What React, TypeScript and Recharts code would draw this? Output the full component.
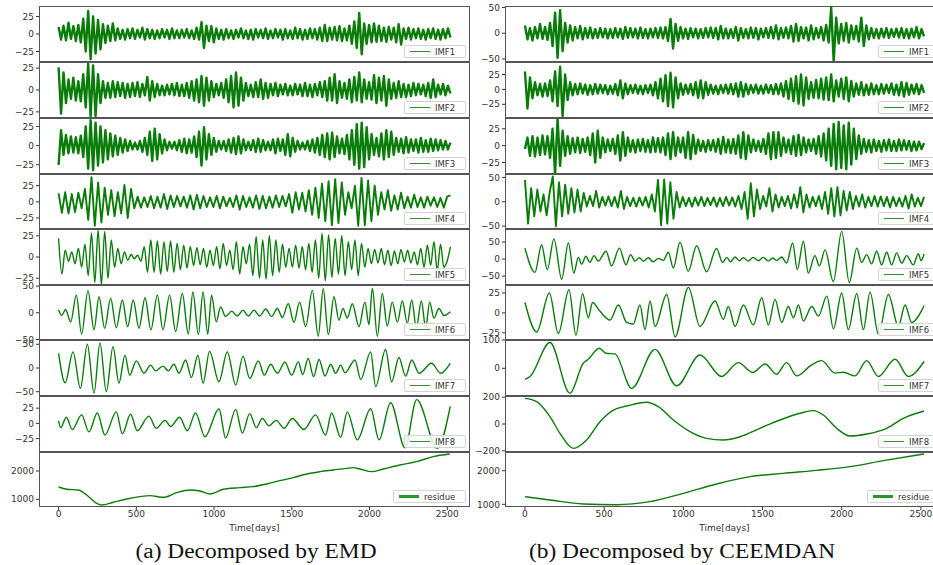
import React from 'react';
import { LineChart, Line, XAxis, YAxis, Legend } from 'recharts';

// ---- EMD (left column) ----
const emdImf1 = [
  10, -8, 12, -9, 16, -7, 11, -10, 13, -12, 22, -25, 33, -36, 25, -28, 20, -22, 14, -13,
  12, -10, 15, -9, 8, -7, 6, -8, 7, -6, 8, -7, 6, -5, 9, -8, 7, -6, 6, -7,
  5, -6, 7, -5, 6, -7, 8, -6, 5, -6, 6, -5, 7, -6, 5, -7, 9, -8, 17, -20,
  12, -10, 11, -12, 8, -7, 6, -8, 7, -6, 5, -7, 6, -5, 8, -6, 5, -7, 6, -8,
  7, -5, 6, -6, 8, -7, 5, -6, 7, -5, 6, -8, 7, -6, 5, -7, 9, -6, 7, -8,
  6, -7, 8, -6, 7, -8, 9, -10, 13, -10, 9, -8, 10, -9, 11, -10, 8, -9, 12, -14,
  18, -20, 30, -29, 15, -14, 13, -12, 15, -11, 12, -10, 9, -11, 10, -8, 9, -12, 14, -15,
  8, -7, 9, -8, 7, -6, 8, -7, 6, -8, 7, -6, 8, -7, 6, -8, 7, -6, 8, -5,
];
const emdImf2 = [
  26, -27, 20, -15, 12, -10, 14, -12, 10, -13, 18, -20, 30, -30, 28, -30, 18, -15, 10, -9,
  8, -9, 10, -8, 9, -7, 8, -9, 7, -8, 8, -7, 9, -8, 7, -6, 15, -12, 10, -8,
  7, -6, 5, -6, 6, -5, 7, -6, 8, -7, 6, -7, 8, -9, 10, -12, 12, -14, 16, -18,
  14, -12, 10, -8, 7, -6, 8, -9, 12, -14, 16, -20, 20, -18, 14, -12, 8, -7, 6, -8,
  9, -8, 12, -10, 8, -9, 7, -6, 8, -7, 6, -5, 7, -6, 5, -6, 7, -5, 6, -7,
  8, -7, 6, -8, 7, -6, 9, -8, 10, -12, 14, -12, 18, -15, 10, -9, 8, -10, 12, -14,
  15, -12, 20, -14, 12, -10, 9, -11, 17, -15, 14, -12, 16, -18, 12, -10, 8, -9, 10, -8,
  7, -8, 6, -7, 8, -6, 7, -5, 6, -7, 8, -9, 12, -8, 6, -5, 7, -6, 5, -4,
];
const emdImf3 = [
  -25, 20, -12, 14, -10, 12, -9, 11, -10, 13, -15, 25, -30, 33, -32, 30, -26, 25, -22, 20,
  -18, 16, -14, 13, -12, 10, -9, 8, -7, 6, -5, 4, -5, 6, -8, 10, -12, 18, -20, 22,
  -18, 15, -10, 8, -6, 5, -4, 5, -6, 7, -8, 9, -10, 8, -9, 12, -15, 18, -26, 24,
  -18, 15, -12, 10, -8, 6, -5, 6, -7, 8, -9, 10, -11, 12, -10, 8, -6, 5, -6, 7,
  -8, 9, -8, 7, -6, 5, -6, 8, -10, 9, -7, 8, -12, 15, -14, 10, -8, 6, -5, 4,
  -5, 6, -7, 8, -9, 10, -12, 14, -15, 16, -18, 17, -15, 12, -10, 9, -11, 14, -18, 20,
  -25, 28, -30, 30, -28, 24, -18, 15, -12, 10, -14, 16, -18, 20, -15, 18, -12, 10, -8, 9,
  -10, 11, -9, 8, -7, 8, -9, 10, -8, 7, -8, 9, -7, 8, -6, 7, -5, 6, -5, 4,
];
const emdImf4 = [
  13, -17, 15, -18, 12, -16, 14, -10, 20, -28, 38, -37, 30, -32, 22, -20, 18, -22, 15, -18,
  26, -25, 20, -10, 8, -9, 7, -8, 9, -10, 8, -9, 12, -11, 10, -8, 9, -7, 8, -9,
  10, -12, 11, -10, 9, -8, 7, -8, 9, -10, 8, -7, 6, -8, 10, -12, 9, -8, 7, -9,
  10, -11, 9, -10, 8, -9, 10, -8, 9, -7, 12, -17, 15, -12, 14, -15, 18, -20, 22, -25,
  28, -30, 32, -36, 35, -33, 30, -20, 15, -10, 25, -37, 37, -36, 33, -30, 25, -20, 15, -12,
  18, -14, 10, -12, 14, -10, 8, -9, 11, -8, 7, -9, 8, -6, 7, -8, 6, -9, 8, 10,
];
const emdImf5 = [
  22, -20, 8, -5, 6, -8, 10, -12, 15, -22, 28, -30, 32, -33, 30, -25, 20, -12, 10, -8,
  6, -4, 3, -2, 2, -5, 12, -18, 20, -18, 19, -20, 18, -17, 19, -18, 16, -15, 14, -13,
  12, -10, 11, -9, 10, -12, 8, -10, 12, -14, 16, -10, 8, -15, 18, -20, 12, -8, 15, -22,
  24, -25, 20, -26, 25, -22, 20, -18, 15, -12, 10, -12, 14, -13, 12, -15, 16, -18, 20, -25,
  28, -28, 26, -24, 22, -20, 25, -22, 18, -15, 20, -22, 16, -12, 10, -8, 9, -7, 10, -9,
  8, -10, 7, -8, 9, -6, 8, -7, 6, -9, 10, -12, 14, -10, 18, -16, 15, -12, -5, 12,
];
const emdImf6Days = [
  0, 20, 45, 78, 114, 148, 189, 228, 260, 296, 335, 371, 410, 444, 480, 517, 556, 594, 635, 671,
  714, 753, 796, 834, 864, 899, 929, 959, 984, 1014, 1042, 1074, 1113, 1149, 1186, 1220, 1257, 1293, 1332, 1370,
  1407, 1439, 1477, 1514, 1550, 1589, 1632, 1670, 1702, 1735, 1771, 1803, 1829, 1857, 1889, 1932, 1970, 1996, 2018, 2050,
  2082, 2114, 2146, 2179, 2211, 2243, 2271, 2301, 2333, 2361, 2387, 2414, 2446, 2478, 2519,
];
const emdImf6 = [
  5, -5, 6, -17, 33, -40, 41, -32, 30, -29, 27, -28, 24, -26, 24, -29, 28, -32, 33, -32,
  33, -35, 36, -40, 39, -41, 39, -40, 33, -17, 11, -7, 3, -6, 5, -6, 5, -6, 7, -7,
  8, -9, 17, -18, 20, -26, 42, -44, 45, -41, 30, -14, 8, -10, 17, -26, 20, -22, 46, -44,
  36, -25, 20, -18, 22, -20, 24, -28, 22, -28, 20, -10, 8, -5, 2,
];
const emdImf7Days = [
  0, 42, 93, 140, 185, 228, 266, 307, 350, 388, 427, 457, 500, 549, 592, 624, 671, 706, 742, 774,
  817, 854, 896, 929, 971, 1031, 1085, 1139, 1186, 1229, 1285, 1323, 1364, 1407, 1456, 1499, 1542, 1570, 1605, 1640,
  1675, 1713, 1750, 1782, 1814, 1842, 1906, 1943, 2007, 2039, 2103, 2142, 2189, 2232, 2271, 2318, 2399, 2457, 2519,
];
const emdImf7 = [
  31, -31, 34, -43, 50, -53, 53, -50, 45, -32, 27, -15, 15, -11, 6, -6, 4, -6, 8, -11,
  17, -20, 27, -32, 35, -29, 34, -36, 25, -22, 15, -15, 8, -11, 12, -15, 13, -14, 20, -18,
  18, -17, 8, -11, 6, -10, 17, -24, 34, -39, 39, -29, 22, -17, 17, -11, 10, -11, 10,
];
const emdImf8Days = [
  0, 13, 50, 88, 148, 195, 249, 298, 371, 410, 463, 506, 581, 628, 684, 721, 778, 828, 881, 941,
  1032, 1074, 1139, 1182, 1229, 1272, 1310, 1353, 1400, 1450, 1503, 1578, 1653, 1717, 1756, 1814, 1857, 1921, 2007, 2061,
  2135, 2228, 2303, 2436, 2519,
];
const emdImf8 = [
  4, -7, 10, -10, 14, -14, 17, -19, 19, -17, 15, -12, 12, -8, 5, -5, 10, -12, 17, -22,
  24, -24, 23, -16, 16, -7, 8, -4, 5, -8, 8, -10, 14, -19, 17, -23, 19, -27, 24, -27,
  34, -40, 39, -41, 28,
];
const emdResidueDays = [
  0, 53, 127, 181, 245, 277, 352, 438, 523, 588, 674, 759, 845, 909, 973, 1059, 1166, 1252, 1338, 1424,
  1509, 1595, 1681, 1767, 1852, 1895, 1938, 2013, 2088, 2195, 2302, 2409, 2516,
];
const emdResidue = [
  1435, 1353, 1330, 1153, 859, 800, 894, 1012, 1094, 1130, 1070, 1235, 1330, 1294, 1188, 1353, 1412, 1447, 1541, 1659,
  1765, 1894, 1976, 2035, 2094, 2118, 2071, 1976, 2071, 2212, 2329, 2506, 2600,
];

// ---- CEEMDAN (right column) ----
const ceeImf1 = [
  15, -12, 10, -14, 12, -10, 18, -11, 12, -13, 20, -25, 40, -48, 45, -35, 20, -18, 15, -14,
  12, -10, 14, -12, 10, -9, 11, -10, 8, -9, 10, -8, 9, -10, 8, -9, 10, -8, 9, -11,
  12, -9, 10, -8, 9, -10, 11, -9, 8, -10, 9, -8, 10, -9, 11, -10, 12, -15, 28, -30,
  18, -15, 12, -10, 9, -11, 10, -8, 9, -10, 8, -9, 10, -8, 11, -9, 10, -12, 14, -10,
  9, -10, 8, -9, 12, -14, 10, -9, 8, -10, 11, -9, 10, -12, 9, -8, 10, -9, 12, -10,
  15, -12, 10, -9, 11, -10, 14, -16, 18, -15, 12, -10, 11, -14, 15, -12, 10, -9, 12, -14,
  16, -18, 50, -55, 30, -20, 18, -15, 20, -18, 15, -12, 14, -16, 30, -25, 15, -12, 10, -9,
  8, -10, 9, -8, 10, -9, 8, -7, 9, -8, 10, -9, 8, -10, 9, -8, 12, -10, 8, -6,
];
const ceeImf2 = [
  30, -32, 20, -15, 12, -10, 9, -12, 10, -11, 15, -20, 30, -28, 38, -45, 25, -18, 12, -10,
  9, -8, 10, -7, 8, -9, 7, -8, 9, -7, 8, -6, 7, -8, 6, -7, 9, -10, 15, -15,
  10, -8, 7, -6, 8, -7, 6, -8, 7, -6, 8, -10, 12, -15, 18, -20, 24, -28, 28, -30,
  20, -15, 10, -9, 8, -7, 9, -10, 12, -14, 15, -15, 12, -9, 8, -7, 6, -8, 7, -6,
  8, -7, 9, -8, 10, -12, 12, -12, 9, -8, 7, -6, 8, -7, 6, -7, 8, -6, 7, -8,
  9, -8, 10, -12, 14, -16, 18, -20, 22, -24, 25, -27, 20, -16, 12, -14, 16, -15, 18, -17,
  20, -18, 25, -20, 15, -12, 18, -16, 20, -20, 14, -12, 10, -9, 12, -10, 8, -9, 10, -8,
  7, -8, 9, -7, 8, -6, 10, -9, 8, -10, 12, -12, 11, -9, 8, -7, 9, -8, 7, -6,
];
const ceeImf3 = [
  -5, 12, -15, 14, -16, 12, -14, 15, -13, 14, -18, 25, -42, 40, -30, 22, -15, 14, -12, 11,
  -10, 12, -11, 10, -9, 12, -14, 18, -25, 22, -18, 12, -10, 9, -8, 10, -12, 15, -22, 20,
  -15, 12, -9, 8, -10, 9, -8, 10, -9, 8, -10, 12, -9, 11, -10, 12, -14, 18, -20, 20,
  -15, 12, -10, 12, -18, 20, -20, 16, -12, 9, -8, 7, -9, 8, -7, 8, -9, 10, -12, 13,
  -10, 9, -11, 10, -12, 15, -18, 20, -20, 15, -10, 9, -8, 7, -9, 10, -12, 18, -20, 20,
  -18, 20, -15, 12, -10, 9, -12, 14, -15, 16, -14, 12, -10, 9, -8, 10, -12, 14, -16, 18,
  -22, 25, -30, 32, -35, 35, -33, 30, -35, 34, -28, 25, -20, 15, -12, 10, -9, 8, -10, 9,
  -8, 7, -9, 8, -7, 9, -8, 7, -8, 9, -7, 8, -6, 7, -8, 6, -7, 6, -5, 4,
];
const ceeImf4 = [
  45, -45, 28, -30, 25, -20, 15, -28, 20, 52, -50, 40, -30, 35, -25, 28, -22, 25, -20, 18,
  -10, 12, -9, 22, -12, 10, -8, 11, -9, 10, -12, 22, -15, 10, -9, 8, -10, 9, -8, 10,
  -12, 15, -20, 45, -48, 46, -45, 40, -35, 20, -12, 10, -9, 8, -10, 9, -8, 10, -9, 8,
  -7, 9, -10, 8, -9, 10, -8, 9, -10, 12, -15, 20, -35, 38, -30, 25, -15, 12, -10, 28,
  -20, 15, -12, 10, -9, 12, -14, 15, -12, 30, -22, 15, -12, 10, -9, 12, -15, 20, -25, 28,
  -30, 30, -28, 22, -18, 20, -15, 12, -10, 15, -12, 10, -9, 12, -10, 11, -9, 10, -12, 10,
  -9, 8, -10, 12, -14, 15, -10, 8, -9, 10,
];
const ceeImf5Days = [
  0, 63, 105, 141, 183, 232, 274, 309, 337, 358, 385, 410, 436, 463, 512, 547, 596, 638, 667, 695,
  722, 747, 779, 810, 842, 874, 905, 937, 979, 1031, 1084, 1147, 1210, 1248, 1274, 1299, 1326, 1354, 1379, 1410,
  1442, 1474, 1505, 1537, 1564, 1589, 1621, 1652, 1690, 1720, 1758, 1789, 1831, 1859, 1895, 1947, 2000, 2048, 2095, 2126,
  2158, 2189, 2221, 2252, 2284, 2316, 2347, 2379, 2410, 2452, 2484, 2501, 2520,
];
const ceeImf5 = [
  32, -39, 42, -31, 59, -59, 47, -41, 5, -15, 8, -10, 10, -6, 23, -20, 32, -17, 13, -6,
  4, -6, 4, -8, 2, -4, 20, -26, 49, -36, 39, -37, 31, -10, 5, -8, 6, -5, 4, -6,
  5, -5, 5, -6, 3, -4, 6, -12, 47, -31, 52, -41, 10, -20, 27, -66, 81, -69, 32, -10,
  13, -14, 23, -17, 20, -17, 18, -12, 10, -17, 16, -5, 15,
];
const ceeImf6Days = [
  0, 74, 154, 211, 278, 322, 364, 400, 427, 470, 537, 590, 642, 684, 726, 758, 790, 821, 895, 948,
  1032, 1105, 1200, 1253, 1284, 1327, 1379, 1442, 1495, 1537, 1579, 1621, 1663, 1695, 1727, 1758, 1811, 1853, 1906, 1948,
  2000, 2042, 2095, 2137, 2179, 2232, 2295, 2358, 2400, 2442, 2520,
];
const ceeImf6 = [
  13, -24, 25, -26, 29, -28, 24, -6, 13, 3, -9, 10, -12, -14, 10, -21, 15, -17, 23, -30,
  32, -17, 15, -8, 8, -17, 10, -15, 19, -15, 17, -12, 8, -6, 10, -10, 8, -4, 21, -20,
  25, -21, 24, -21, 26, -27, 23, -17, 10, -12, 9,
];
const ceeImf7Days = [
  0, 32, 158, 284, 368, 400, 469, 512, 568, 674, 821, 958, 1105, 1242, 1347, 1438, 1516, 1589, 1652, 1716,
  1810, 1873, 1958, 2010, 2084, 2158, 2231, 2337, 2421, 2520,
];
const ceeImf7 = [
  -39, -29, 91, -88, 18, 32, 71, 53, 51, -71, 67, -62, 47, -29, 20, -15, 15, -21, 20, -27,
  12, 27, -17, -14, -27, 27, -29, 32, -29, 24,
];
const ceeImf8Days = [
  0, 74, 158, 221, 305, 389, 474, 558, 642, 768, 842, 937, 1042, 1147, 1252, 1358, 1484, 1610, 1737, 1821,
  1884, 1968, 2052, 2158, 2284, 2389, 2520,
];
const ceeImf8 = [
  191, 167, 55, -70, -182, -119, 17, 104, 134, 162, 129, 30, -57, -107, -119, -95, -32, 30, 80, 100,
  67, -32, -90, -75, -32, 42, 97,
];
const ceeResidueDays = [0, 158, 368, 579, 789, 1000, 1210, 1421, 1631, 1842, 2052, 2263, 2520];
const ceeResidue = [1227, 1128, 1009, 989, 1079, 1327, 1604, 1822, 1921, 2010, 2120, 2298, 2497];

const dayTicks = [0, 500, 1000, 1500, 2000, 2500];
const LAST_DAY = 2520;

type Curve = 'dense' | 'mid' | 'smooth';

type Panel = {
  name: string;
  values: number[];
  days?: number[];
  domain: [number, number];
  ticks: number[];
  curve: Curve;
};

const emdPanels: Panel[] = [
  { name: 'IMF1', values: emdImf1, domain: [-40, 40], ticks: [-25, 0, 25], curve: 'dense' },
  { name: 'IMF2', values: emdImf2, domain: [-32, 32], ticks: [-25, 0, 25], curve: 'dense' },
  { name: 'IMF3', values: emdImf3, domain: [-37, 36], ticks: [-25, 0, 25], curve: 'dense' },
  { name: 'IMF4', values: emdImf4, domain: [-42, 43], ticks: [-25, 0, 25], curve: 'mid' },
  { name: 'IMF5', values: emdImf5, domain: [-33, 33], ticks: [-25, 0, 25], curve: 'smooth' },
  { name: 'IMF6', values: emdImf6, days: emdImf6Days, domain: [-51, 52], ticks: [-50, 0, 50], curve: 'smooth' },
  { name: 'IMF7', values: emdImf7, days: emdImf7Days, domain: [-59, 59], ticks: [-50, 0, 50], curve: 'smooth' },
  { name: 'IMF8', values: emdImf8, days: emdImf8Days, domain: [-47, 45], ticks: [-25, 0, 25], curve: 'smooth' },
  { name: 'residue', values: emdResidue, days: emdResidueDays, domain: [728, 2671], ticks: [1000, 2000], curve: 'smooth' },
];

const ceePanels: Panel[] = [
  { name: 'IMF1', values: ceeImf1, domain: [-56, 53], ticks: [-50, 0, 50], curve: 'dense' },
  { name: 'IMF2', values: ceeImf2, domain: [-48, 46], ticks: [-25, 0, 25], curve: 'dense' },
  { name: 'IMF3', values: ceeImf3, domain: [-42, 41], ticks: [-25, 0, 25], curve: 'dense' },
  { name: 'IMF4', values: ceeImf4, domain: [-56, 57], ticks: [-50, 0, 50], curve: 'mid' },
  { name: 'IMF5', values: ceeImf5, days: ceeImf5Days, domain: [-76, 88], ticks: [-50, 0, 50], curve: 'smooth' },
  { name: 'IMF6', values: ceeImf6, days: ceeImf6Days, domain: [-34, 35], ticks: [-25, 0, 25], curve: 'smooth' },
  { name: 'IMF7', values: ceeImf7, days: ceeImf7Days, domain: [-98, 100], ticks: [0, 100], curve: 'smooth' },
  { name: 'IMF8', values: ceeImf8, days: ceeImf8Days, domain: [-209, 209], ticks: [-200, 0, 200], curve: 'smooth' },
  { name: 'residue', values: ceeResidue, days: ceeResidueDays, domain: [920, 2556], ticks: [1000, 2000], curve: 'smooth' },
];

const PANEL_TOPS = [6, 62, 118, 174, 229, 285, 340, 396, 452];
const PANEL_BOTTOM = 507;
const AXIS_W = 39;
const X_AXIS_H = 28;
const GREEN = '#0a7c0a';
const TICK_COLOR = '#333';
const FONT = 'DejaVu Sans, sans-serif';

const STROKE: Record<Curve, number> = { dense: 2.4, mid: 1.9, smooth: 1.4 };

const fmt = (v: number) => (v < 0 ? '\u2212' + Math.abs(v) : String(v));

const LegendBox = ({ name }: { name: string }) => {
  const isRes = name === 'residue';
  return (
    <div
      style={{
        width: isRes ? 73 : 62,
        height: 13,
        boxSizing: 'border-box',
        border: '1px solid #d4d4d4',
        borderRadius: 2,
        background: 'rgba(255,255,255,0.85)',
        display: 'flex',
        alignItems: 'center',
        fontFamily: FONT,
        fontSize: 8.5,
        color: '#333',
        whiteSpace: 'nowrap',
      }}
    >
      <span style={{ display: 'inline-block', width: 20, height: isRes ? 2.4 : 1.6, background: '#2a962a', marginLeft: 5, marginRight: 5 }} />
      {name}
    </div>
  );
};

const PanelChart = ({ p, idx, left, plotW }: { p: Panel; idx: number; left: number; plotW: number }) => {
  const top = PANEL_TOPS[idx];
  const h = (idx + 1 < PANEL_TOPS.length ? PANEL_TOPS[idx + 1] : PANEL_BOTTOM) - top;
  const isLast = idx === PANEL_TOPS.length - 1;
  const n = p.values.length;
  const rows = p.values.map((v, i) => ({ day: p.days ? p.days[i] : (i * LAST_DAY) / (n - 1), v }));
  const legendW = p.name === 'residue' ? 73 : 62;
  return (
    <>
      <div style={{ position: 'absolute', left, top }}>
        <LineChart
          width={AXIS_W + plotW}
          height={h + (isLast ? X_AXIS_H : 0)}
          data={rows}
          margin={{ top: 0, right: 0, bottom: 0, left: 0 }}
        >
          <XAxis
            type="number"
            dataKey="day"
            domain={[-126, 2646]}
            allowDataOverflow
            ticks={dayTicks}
            hide={!isLast}
            height={isLast ? X_AXIS_H : 0}
            axisLine={false}
            tickLine={{ stroke: TICK_COLOR }}
            tickSize={3}
            tickMargin={1}
            tick={{ fontSize: 9, fill: TICK_COLOR, fontFamily: FONT }}
            label={isLast ? { value: 'Time[days]', position: 'insideBottom', offset: 4, fontSize: 9, fill: TICK_COLOR, fontFamily: FONT } : undefined}
          />
          <YAxis
            type="number"
            domain={p.domain}
            allowDataOverflow
            ticks={p.ticks}
            interval={0}
            width={AXIS_W}
            axisLine={false}
            tickLine={{ stroke: TICK_COLOR }}
            tickSize={3}
            tickMargin={2}
            tickFormatter={fmt}
            tick={{ fontSize: 9, fill: TICK_COLOR, fontFamily: FONT }}
          />
          <Legend
            layout="horizontal"
            verticalAlign="middle"
            align="center"
            content={() => <LegendBox name={p.name} />}
            wrapperStyle={{ position: 'absolute', left: AXIS_W + plotW - 4 - legendW, top: h - 17, width: legendW, height: 13 }}
          />
          <Line
            type={p.curve === 'smooth' ? 'monotone' : 'linear'}
            dataKey="v"
            name={p.name}
            stroke={GREEN}
            strokeWidth={STROKE[p.curve]}
            strokeLinejoin="round"
            dot={false}
            isAnimationActive={false}
          />
        </LineChart>
      </div>
      <div
        style={{
          position: 'absolute',
          left: left + AXIS_W,
          top,
          width: plotW,
          height: h,
          boxSizing: 'border-box',
          border: '1px solid #555',
          pointerEvents: 'none',
        }}
      />
    </>
  );
};

const captionStyle: React.CSSProperties = {
  position: 'absolute',
  top: 541,
  width: 500,
  textAlign: 'center',
  fontFamily: 'Liberation Serif, Times New Roman, serif',
  fontSize: 20,
  lineHeight: '20px',
  color: '#111',
  transform: 'scaleX(1.17)',
  transformOrigin: 'center',
};

export default function App() {
  return (
    <div style={{ position: 'absolute', left: 0, top: 0, width: 933, height: 565, overflow: 'hidden', background: '#fff' }}>
      <style>{'.recharts-surface { overflow: visible; }'}</style>
      {emdPanels.map((p, i) => (
        <PanelChart key={'emd' + i} p={p} idx={i} left={0} plotW={431} />
      ))}
      {ceePanels.map((p, i) => (
        <PanelChart key={'cee' + i} p={p} idx={i} left={466} plotW={439} />
      ))}
      <div style={{ ...captionStyle, left: 6 }}>(a) Decomposed by EMD</div>
      <div style={{ ...captionStyle, left: 432 }}>(b) Decomposed by CEEMDAN</div>
    </div>
  );
}
